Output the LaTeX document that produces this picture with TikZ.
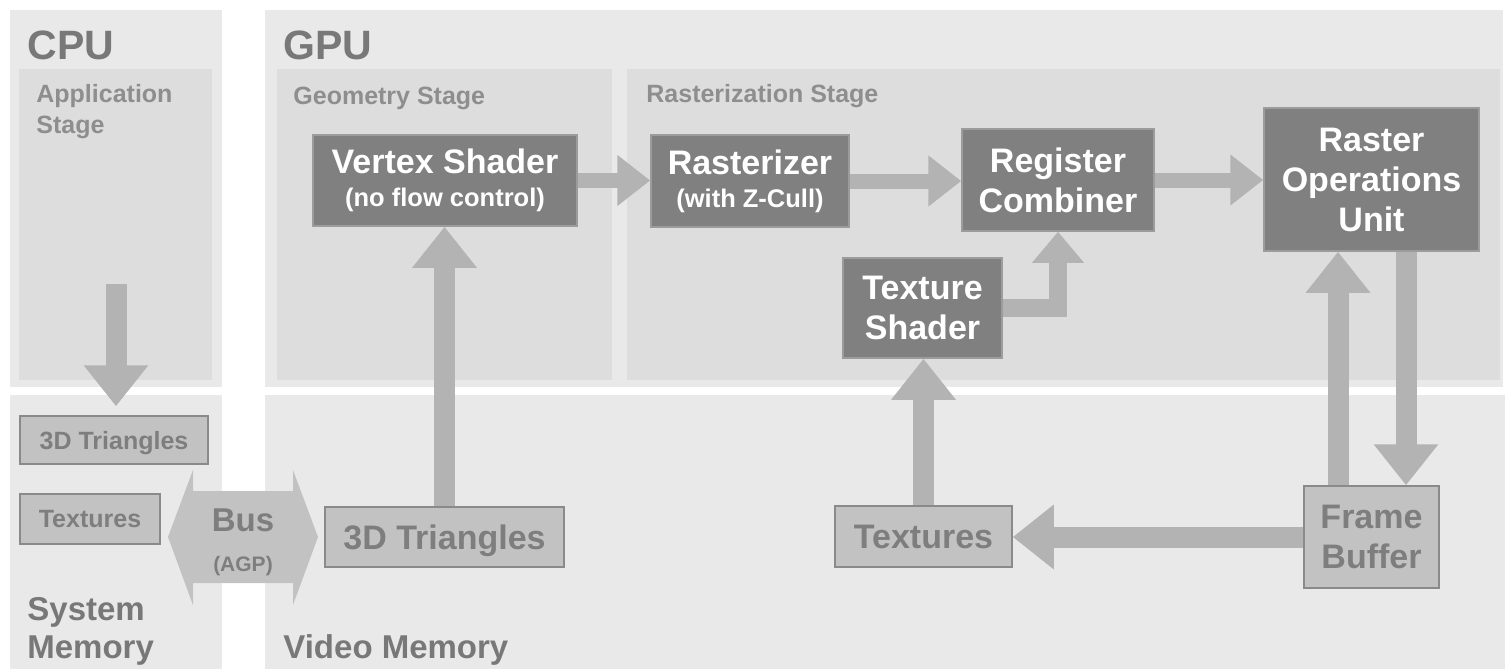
\documentclass[tikz,border=0pt]{standalone}
\usepackage{fontspec}
\setmainfont{Liberation Sans}
\usetikzlibrary{arrows.meta}

\definecolor{panel}{HTML}{E9E9E9}
\definecolor{stagefill}{HTML}{DDDDDD}
\definecolor{unitfill}{HTML}{808080}
\definecolor{unitedge}{HTML}{9C9C9C}
\definecolor{memfill}{HTML}{C2C2C2}
\definecolor{memedge}{HTML}{8A8A8A}
\definecolor{memtext}{HTML}{7E7E7E}
\definecolor{flowgray}{HTML}{B3B3B3}
\definecolor{busgray}{HTML}{C2C2C2}
\definecolor{titlegray}{HTML}{787878}
\definecolor{stagegray}{HTML}{8E8E8E}

\tikzset{
  unit/.style={draw=unitedge, line width=0.75pt, fill=unitfill, text=white, align=center, inner sep=0pt,
    font=\bfseries\fontsize{17}{20}\selectfont},
  mem/.style={draw=memedge, line width=0.75pt, fill=memfill, text=memtext, align=center, inner sep=0pt,
    font=\bfseries\fontsize{17}{20}\selectfont},
  paneltitle/.style={text=titlegray, inner sep=0pt, align=left, font=\bfseries\fontsize{20.5}{24}\selectfont},
  memtitle/.style={text=titlegray, inner sep=0pt, align=left, font=\bfseries\fontsize{16.5}{19}\selectfont},
  stagetitle/.style={text=stagegray, inner sep=0pt, align=left, font=\bfseries\fontsize{12.5}{15.5}\selectfont},
  flow/.style={draw=flowgray, line width=10.5pt, -{Triangle[length=20.5pt, width=31pt]}},
  thinflow/.style={draw=flowgray, line width=7.5pt, -{Triangle[length=16.5pt, width=24.5pt]}}
}
\newcommand{\subline}[1]{{\fontsize{12.75}{14}\selectfont #1}}

\begin{document}
\begin{tikzpicture}[x=0.5pt, y=-0.5pt]
        % page and panels
        \fill[white] (0,0) rectangle (1505,669);
        \useasboundingbox (0,0) rectangle (1505,669);
        \fill[panel] (10,10) rectangle (222,387);
        \fill[panel] (265,10) rectangle (1503,387);
        \fill[stagefill] (19,69) rectangle (212,380);
        \fill[stagefill] (277,69) rectangle (612,380);
        \fill[stagefill] (627,69) rectangle (1500,380);
        \fill[panel] (10,395) rectangle (222,669);
        \fill[panel] (265,395) rectangle (1505,669);
        % titles
        \node[paneltitle, anchor=base west] (cpu) at (27,59) {CPU};
        \node[paneltitle, anchor=base west] (gpu) at (283,59) {GPU};
        \node[stagetitle, anchor=base west] (appstage) at (36,133) {Application\\Stage};
        \node[stagetitle, anchor=base west] (geostage) at (293,104) {Geometry Stage};
        \node[stagetitle, anchor=base west] (raststage) at (646,102) {Rasterization Stage};
        \node[memtitle, anchor=base west] (sysmem) at (27,658) {System\\Memory};
        \node[memtitle, anchor=base west] (vidmem) at (283,658) {Video Memory};
        % units
        \node[unit, minimum width=132pt, minimum height=45.5pt] (vs) at (445,180.5) {Vertex Shader\\[-3.5pt]\subline{(no flow control)}};
        \node[unit, minimum width=99pt, minimum height=46pt] (rast) at (750,181) {Rasterizer\\[-3.5pt]\subline{(with Z-Cull)}};
        \node[unit, minimum width=96pt, minimum height=51pt] (regc) at (1058,180) {Register\\Combiner};
        \node[unit, minimum width=79.5pt, minimum height=50pt] (texsh) at (922.5,308) {Texture\\Shader};
        \node[unit, minimum width=107.5pt, minimum height=71.5pt] (rop) at (1371.5,179.5) {Raster\\Operations\\Unit};
        % memory
        \node[mem, minimum width=94pt, minimum height=24pt, text depth=0pt, font=\bfseries\fontsize{12.5}{15}\selectfont] (systri) at (114,440) {3D Triangles};
        \node[mem, minimum width=70pt, minimum height=25pt, font=\bfseries\fontsize{12.5}{15}\selectfont] (systex) at (90,519) {Textures};
        \node[mem, minimum width=119.5pt, minimum height=30pt, text depth=0pt] (tri) at (444.5,537) {3D Triangles};
        \node[mem, minimum width=88.5pt, minimum height=30.5pt] (tex) at (923.5,536.5) {Textures};
        \node[mem, minimum width=67.5pt, minimum height=51pt] (fb) at (1371.5,537) {Frame\\Buffer};
        % bus
        \fill[busgray] (168,537) -- (193,470) -- (193,491) -- (293,491) -- (293,470) -- (318,537)
            -- (293,605) -- (293,583) -- (193,583) -- (193,605) -- cycle;
        \node[text=memtext, align=center, inner sep=0pt, font=\bfseries\fontsize{16.5}{20}\selectfont] (bus) at (243,542) {Bus\\\fontsize{10.5}{12}\selectfont(AGP)};
        % flows
        \coordinate (appout) at (116,284);
        \draw[flow, shorten >=4.5pt] (appout) -- (appout |- systri.north);
        \draw[thinflow] (vs.east) -- (vs.east -| rast.west);
        \draw[thinflow] (rast.east) -- (rast.east -| regc.west);
        \draw[thinflow] (regc.east) -- (regc.east -| rop.west);
        \draw[thinflow, line width=9pt, -{Triangle[length=15.5pt, width=25pt]}] (texsh.east) -| (regc.south);
        \draw[flow] (tri.north) -- (tri.north |- vs.south);
        \draw[flow] (tex.north) -- (tex.north |- texsh.south);
        \draw[flow] (fb.west) -- (fb.west -| tex.east);
        \draw[flow] ([xshift=-16.75pt]fb.north) -- ([xshift=-16.75pt]fb.north |- rop.south);
        \draw[flow] ([xshift=17.25pt]rop.south) -- ([xshift=17.25pt]rop.south |- fb.north);
    \end{tikzpicture}
\end{document}
